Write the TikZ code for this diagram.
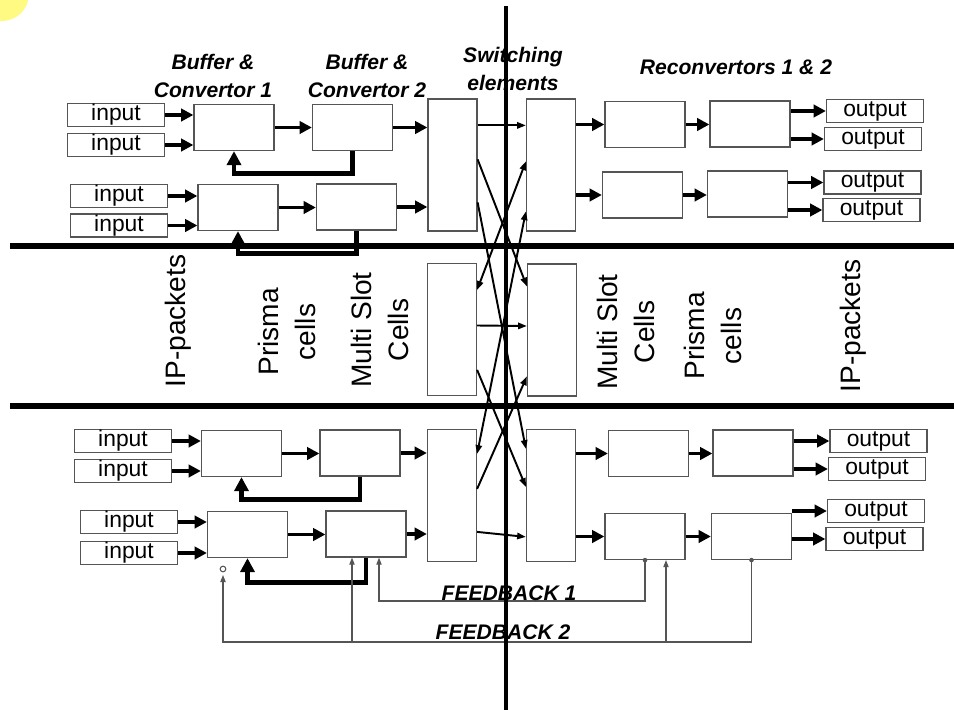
\documentclass[tikz,border=0pt]{standalone}
\usepackage{fontspec}
\setmainfont{Liberation Sans}
\usepackage{tikz}
\usetikzlibrary{arrows.meta,positioning,calc}
\definecolor{swLine}{RGB}{85,85,85}
\definecolor{swSun}{RGB}{255,250,130}

\begin{document}
\begin{tikzpicture}[x=0.02cm, y=-0.02cm,
    blk/.style={draw=swLine, line width=0.7pt, minimum width=1.6cm, minimum height=0.92cm, inner sep=0pt},
    io/.style={draw=swLine, line width=0.7pt, minimum width=1.94cm, minimum height=0.46cm, inner sep=0pt, font=\fontsize{13}{13}\selectfont},
    sw/.style={draw=swLine, line width=0.7pt, minimum width=0.98cm, minimum height=2.64cm, inner sep=0pt},
    ttl/.style={align=center, font=\fontsize{12}{16}\selectfont\bfseries\itshape},
    vlab/.style={rotate=90, align=center, font=\fontsize{16}{21}\selectfont},
    fat/.style={line width=2.2pt, -{Triangle[length=7pt,width=7pt]}},
    fbloop/.style={line width=2.8pt, -{Triangle[length=8pt,width=8pt]}},
    xing/.style={line width=1.1pt, -{Triangle[length=5pt,width=3.6pt]}},
    xingb/.style={line width=1.1pt, {Triangle[length=5pt,width=3.6pt]}-{Triangle[length=5pt,width=3.6pt]}},
    fbk/.style={draw=swLine, line width=0.6pt},
    fbtip/.style={-{Triangle[length=4pt,width=3pt]}},
    bar/.style={line width=3.4pt}]

    % page frame and the yellow corner
    \useasboundingbox (0,0) rectangle (954,710);
    \begin{scope}
        \clip (0,0) rectangle (954,710);
        \fill[swSun] (2,-6) circle (0.54cm);
    \end{scope}

    % column titles
    \node[ttl] (tBC1) at (213,76) {Buffer \&\\Convertor 1};
    \node[ttl] (tBC2) at (367,76) {Buffer \&\\Convertor 2};
    \node[ttl] (tSW)  at (513,69) {Switching\\elements};
    \node[ttl] (tRC)  at (736,67) {Reconvertors 1 \& 2};

    % inputs
    \node[io] (in1) at (116,115) {input};
    \node[io] (in2) at (116,145) {input};
    \node[io] (in3) at (119,196) {input};
    \node[io] (in4) at (119,225.5) {input};
    \node[io] (in5) at (123,441) {input};
    \node[io] (in6) at (123,471) {input};
    \node[io] (in7) at (129,522) {input};
    \node[io] (in8) at (129,553) {input};

    % outputs
    \node[io] (out1) at (875,111) {output};
    \node[io] (out2) at (873,139) {output};
    \node[io] (out3) at (872.5,182.5) {output};
    \node[io] (out4) at (871.5,210) {output};
    \node[io] (out5) at (878.5,441) {output};
    \node[io] (out6) at (877,469) {output};
    \node[io] (out7) at (876,511) {output};
    \node[io] (out8) at (874.5,539) {output};

    % buffer & convertor blocks
    \node[blk] (A1) at (234,127.5) {};
    \node[blk] (B1) at (352.5,127.5) {};
    \node[blk] (A2) at (238,207.5) {};
    \node[blk] (B2) at (356.5,207) {};
    \node[blk] (C1) at (241.5,453.5) {};
    \node[blk] (D1) at (360,453) {};
    \node[blk] (C2) at (247.5,534.5) {};
    \node[blk] (D2) at (366,534) {};

    % reconvertors
    \node[blk] (R1a) at (645,124.5) {};
    \node[blk] (R2a) at (750,124) {};
    \node[blk] (R1b) at (642.5,195) {};
    \node[blk] (R2b) at (747.5,194) {};
    \node[blk] (R1c) at (648.5,453.5) {};
    \node[blk] (R2c) at (753,453) {};
    \node[blk] (R1d) at (645,536.5) {};
    \node[blk] (R2d) at (751.5,536.5) {};

    % switching elements
    \node[sw] (SL1) at (452.5,165) {};
    \node[sw] (SR1) at (551,165) {};
    \node[sw] (SL2) at (452,329.5) {};
    \node[sw] (SR2) at (552,330) {};
    \node[sw] (SL3) at (452,495.5) {};
    \node[sw] (SR3) at (551,495.5) {};

    % inputs -> convertors
    \draw[fat] (in1.east) -- (in1.east -| A1.west);
    \draw[fat] (in2.east) -- (in2.east -| A1.west);
    \draw[fat] (in3.east) -- (in3.east -| A2.west);
    \draw[fat] (in4.east) -- (in4.east -| A2.west);
    \draw[fat] (in5.east) -- (in5.east -| C1.west);
    \draw[fat] (in6.east) -- (in6.east -| C1.west);
    \draw[fat] (in7.east) -- (in7.east -| C2.west);
    \draw[fat] (in8.east) -- (in8.east -| C2.west);

    % convertor 1 -> convertor 2 -> switch
    \draw[fat] (A1.east) -- (A1.east -| B1.west);
    \draw[fat] (A2.east) -- (A2.east -| B2.west);
    \draw[fat] (C1.east) -- (C1.east -| D1.west);
    \draw[fat] (C2.east) -- (C2.east -| D2.west);
    \draw[fat] (B1.east) -- (B1.east -| SL1.west);
    \draw[fat] (B2.east) -- (B2.east -| SL1.west);
    \draw[fat] (D1.east) -- (D1.east -| SL3.west);
    \draw[fat] (D2.east) -- (D2.east -| SL3.west);

    % switch -> reconvertors -> outputs
    \draw[fat] (R1a.west -| SR1.east) -- (R1a.west);
    \draw[fat] (R1b.west -| SR1.east) -- (R1b.west);
    \draw[fat] (R1c.west -| SR3.east) -- (R1c.west);
    \draw[fat] (R1d.west -| SR3.east) -- (R1d.west);
    \draw[fat] (R1a.east) -- (R1a.east -| R2a.west);
    \draw[fat] (R1b.east) -- (R1b.east -| R2b.west);
    \draw[fat] (R1c.east) -- (R1c.east -| R2c.west);
    \draw[fat] (R1d.east) -- (R1d.east -| R2d.west);
    \draw[fat] (out1.west -| R2a.east) -- (out1.west);
    \draw[fat] (out2.west -| R2a.east) -- (out2.west);
    \draw[fat] (out3.west -| R2b.east) -- (out3.west);
    \draw[fat] (out4.west -| R2b.east) -- (out4.west);
    \draw[fat] (out5.west -| R2c.east) -- (out5.west);
    \draw[fat] (out6.west -| R2c.east) -- (out6.west);
    \draw[fat] (out7.west -| R2d.east) -- (out7.west);
    \draw[fat] (out8.west -| R2d.east) -- (out8.west);

    % buffer loops
    \draw[fbloop] (B1.south) -- ++(0,22) -| (A1.south);
    \draw[fbloop] (B2.south) -- ++(0,23) -| (A2.south);
    \draw[fbloop] (D1.south) -- ++(0,23) -| (C1.south);
    \draw[fbloop] (D2.south) -- ++(0,25) -| (C2.south);

    % crossbar between the switching elements
    \draw[xing] ($(SL1.north east)+(0,27)$) -- ($(SR1.north west)+(0,27)$);
    \draw[xing] ($(SL2.east)+(0,-4)$) -- ($(SR2.west)+(0,-4)$);
    \draw[xing] ($(SL3.north east)+(0,103)$) -- ($(SR3.north west)+(0,108)$);
    \draw[xing] ($(SL1.north east)+(0,61)$) -- ($(SR2.north west)+(0,23)$);
    \draw[xingb] ($(SL2.north east)+(0,27)$) -- ($(SR1.north west)+(0,63)$);
    \draw[xing] ($(SL1.north east)+(0,104)$) -- ($(SR3.north west)+(0,20)$);
    \draw[xingb] ($(SL3.north east)+(0,25)$) -- ($(SR1.north west)+(0,113)$);
    \draw[xing] ($(SL2.north east)+(0,107)$) -- ($(SR3.north west)+(0,58)$);
    \draw[xing] ($(SL3.north east)+(0,60)$) -- ($(SR2.north west)+(0,113)$);

    % feedback 1 and 2
    \coordinate (fbA) at (0,601);
    \coordinate (fbB) at (0,642);
    \coordinate (fbEnd) at (223,575);
    \coordinate (fbD2) at ($(D2.south)+(13,0)$);
    \coordinate (fbD2b) at ($(D2.south)+(-14,0)$);
    \coordinate (fbR1) at ($(R1d.south)+(21,0)$);
    \draw[fbk, fbtip] (R1d.south) |- (fbD2 |- fbA) -- (fbD2);
    \draw[fbk, fbtip] (R2d.south) |- (fbEnd |- fbB) -- (fbEnd);
    \draw[fbk, fbtip] (fbD2b |- fbB) -- (fbD2b);
    \draw[fbk, fbtip] (fbR1 |- fbB) -- (fbR1);
    \fill[swLine] (R1d.south) circle (1.3pt);
    \fill[swLine] (R2d.south) circle (1.3pt);
    \draw[fbk] ($(fbEnd)+(0,-6)$) circle (1.6pt);
    \node[ttl] (lFB1) at (509,593) {FEEDBACK 1};
    \node[ttl] (lFB2) at (503,632) {FEEDBACK 2};

    % cell format labels
    \node[vlab] (lIPl) at (178,321) {IP-packets};
    \node[vlab] (lPCl) at (287,332) {Prisma\\cells};
    \node[vlab] (lMSl) at (380,330) {Multi Slot\\Cells};
    \node[vlab] (lMSr) at (626,332) {Multi Slot\\Cells};
    \node[vlab] (lPCr) at (712.5,336) {Prisma\\cells};
    \node[vlab] (lIPr) at (853,326) {IP-packets};

    % section bars
    \draw[bar] (10,246) -- (954,246);
    \draw[bar] (10,406) -- (954,406);
    \draw[line width=2.8pt] (506,6) -- (506,710);
\end{tikzpicture}
\end{document}
